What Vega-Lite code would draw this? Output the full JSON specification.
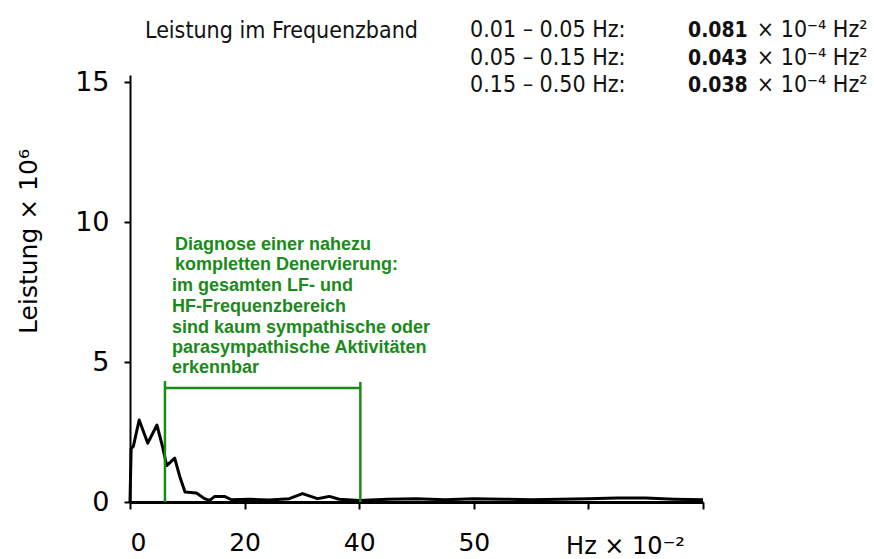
{
  "$schema": "https://vega.github.io/schema/vega-lite/v6.json",
  "width": 573,
  "height": 427,
  "autosize": {"type": "none"},
  "padding": {"left": 130, "top": 75, "right": 171, "bottom": 57},
  "background": "white",
  "config": {"view": {"stroke": null}},
  "datasets": {
    "spectrum": [
      {"f": 0, "p": 0}, {"f": 0.2, "p": 1.9}, {"f": 0.6, "p": 2.0}, {"f": 1.6, "p": 2.93},
      {"f": 3.1, "p": 2.1}, {"f": 4.7, "p": 2.75}, {"f": 5.7, "p": 1.96}, {"f": 6.4, "p": 1.3},
      {"f": 7.8, "p": 1.57}, {"f": 8.7, "p": 0.9}, {"f": 9.6, "p": 0.36}, {"f": 11.6, "p": 0.32},
      {"f": 13.0, "p": 0.12}, {"f": 13.9, "p": 0.06}, {"f": 14.8, "p": 0.2}, {"f": 16.5, "p": 0.2},
      {"f": 17.7, "p": 0.08}, {"f": 20.9, "p": 0.1}, {"f": 24.3, "p": 0.07}, {"f": 27.8, "p": 0.12},
      {"f": 30.1, "p": 0.3}, {"f": 32.7, "p": 0.12}, {"f": 33.6, "p": 0.15}, {"f": 34.8, "p": 0.2},
      {"f": 36.5, "p": 0.1}, {"f": 40, "p": 0.05}, {"f": 45, "p": 0.1}, {"f": 50, "p": 0.12},
      {"f": 55, "p": 0.08}, {"f": 60, "p": 0.12}, {"f": 65, "p": 0.1}, {"f": 70, "p": 0.08},
      {"f": 75, "p": 0.1}, {"f": 80, "p": 0.12}, {"f": 85, "p": 0.14}, {"f": 90, "p": 0.14},
      {"f": 95, "p": 0.1}, {"f": 100, "p": 0.08}
    ],
    "bracketV": [
      {"f": 6.1, "p0": 0, "p1": 4.32},
      {"f": 40.2, "p0": 0, "p1": 4.29}
    ],
    "bracketH": [
      {"f0": 6.1, "f1": 40.2, "p": 4.07}
    ],
    "header": [
      {"f": 2.62, "p": 16.57, "t": "Leistung im Frequenzband"},
      {"f": 59.34, "p": 16.61, "t": "0.01 – 0.05 Hz:"},
      {"f": 59.34, "p": 15.61, "t": "0.05 – 0.15 Hz:"},
      {"f": 59.34, "p": 14.64, "t": "0.15 – 0.50 Hz:"},
      {"f": 109.4, "p": 16.61, "t": "× 10⁻⁴ Hz²"},
      {"f": 109.4, "p": 15.61, "t": "× 10⁻⁴ Hz²"},
      {"f": 109.4, "p": 14.64, "t": "× 10⁻⁴ Hz²"}
    ],
    "values": [
      {"f": 97.38, "p": 16.61, "t": "0.081"},
      {"f": 97.38, "p": 15.61, "t": "0.043"},
      {"f": 97.38, "p": 14.64, "t": "0.038"}
    ],
    "note": [
      {"f": 7.85, "p": 9.0, "t": "Diagnose einer nahezu"},
      {"f": 7.85, "p": 8.29, "t": "kompletten Denervierung:"},
      {"f": 7.33, "p": 7.55, "t": "im gesamten LF- und"},
      {"f": 7.33, "p": 6.8, "t": "HF-Frequenzbereich"},
      {"f": 7.33, "p": 6.05, "t": "sind kaum sympathische oder"},
      {"f": 7.33, "p": 5.32, "t": "parasympathische Aktivitäten"},
      {"f": 7.33, "p": 4.6, "t": "erkennbar"}
    ]
  },
  "layer": [
    {
      "data": {"name": "spectrum"},
      "mark": {"type": "line", "color": "black", "strokeWidth": 3, "strokeJoin": "round"},
      "encoding": {
        "x": {
          "field": "f", "type": "quantitative",
          "scale": {"domain": [0, 100], "nice": false, "zero": false},
          "axis": {
            "values": [0, 20, 40, 60, 80, 100],
            "labelExpr": "datum.value == 60 ? '50' : (datum.value > 60 ? '' : datum.label)",
            "grid": false,
            "domainColor": "black", "domainWidth": 3,
            "tickColor": "black", "tickWidth": 2, "tickSize": 7,
            "labelFont": "DejaVu Sans", "labelFontSize": 25, "labelColor": "black",
            "labelPadding": 21,
            "title": "Hz × 10⁻²",
            "titleFont": "DejaVu Sans", "titleFontSize": 24, "titleFontWeight": "normal",
            "titleColor": "black", "titleX": 495, "titleY": 51, "titleBaseline": "alphabetic",
            "titleAlign": "center"
          }
        },
        "y": {
          "field": "p", "type": "quantitative",
          "scale": {"domain": [0, 15.25], "nice": false},
          "axis": {
            "values": [0, 5, 10, 15],
            "grid": false,
            "domainColor": "black", "domainWidth": 2,
            "tickColor": "black", "tickWidth": 2, "tickSize": 6,
            "labelFont": "DejaVu Sans", "labelFontSize": 27, "labelColor": "black",
            "labelPadding": 15,
            "title": "Leistung × 10⁶",
            "titleFont": "DejaVu Sans", "titleFontSize": 25, "titleFontWeight": "normal",
            "titleColor": "black", "titleX": -102, "titleY": 166, "titleAngle": -90,
            "titleBaseline": "middle", "titleAlign": "center"
          }
        }
      }
    },
    {
      "data": {"name": "bracketV"},
      "mark": {"type": "rule", "color": "#1a8a1a", "strokeWidth": 2.5},
      "encoding": {
        "x": {"field": "f", "type": "quantitative"},
        "y": {"field": "p0", "type": "quantitative"},
        "y2": {"field": "p1"}
      }
    },
    {
      "data": {"name": "bracketH"},
      "mark": {"type": "rule", "color": "#1a8a1a", "strokeWidth": 2.5},
      "encoding": {
        "x": {"field": "f0", "type": "quantitative"},
        "x2": {"field": "f1"},
        "y": {"field": "p", "type": "quantitative"}
      }
    },
    {
      "data": {"name": "header"},
      "mark": {"type": "text", "align": "left", "baseline": "alphabetic", "font": "DejaVu Sans Condensed", "fontSize": 23, "color": "#111"},
      "encoding": {
        "x": {"field": "f", "type": "quantitative"},
        "y": {"field": "p", "type": "quantitative"},
        "text": {"field": "t"}
      }
    },
    {
      "data": {"name": "values"},
      "mark": {"type": "text", "align": "left", "baseline": "alphabetic", "font": "DejaVu Sans Condensed", "fontSize": 21, "fontWeight": "bold", "color": "#111"},
      "encoding": {
        "x": {"field": "f", "type": "quantitative"},
        "y": {"field": "p", "type": "quantitative"},
        "text": {"field": "t"}
      }
    },
    {
      "data": {"name": "note"},
      "mark": {"type": "text", "align": "left", "baseline": "alphabetic", "font": "Liberation Sans", "fontSize": 18, "fontWeight": "bold", "color": "#1a8a1a"},
      "encoding": {
        "x": {"field": "f", "type": "quantitative"},
        "y": {"field": "p", "type": "quantitative"},
        "text": {"field": "t"}
      }
    }
  ]
}
